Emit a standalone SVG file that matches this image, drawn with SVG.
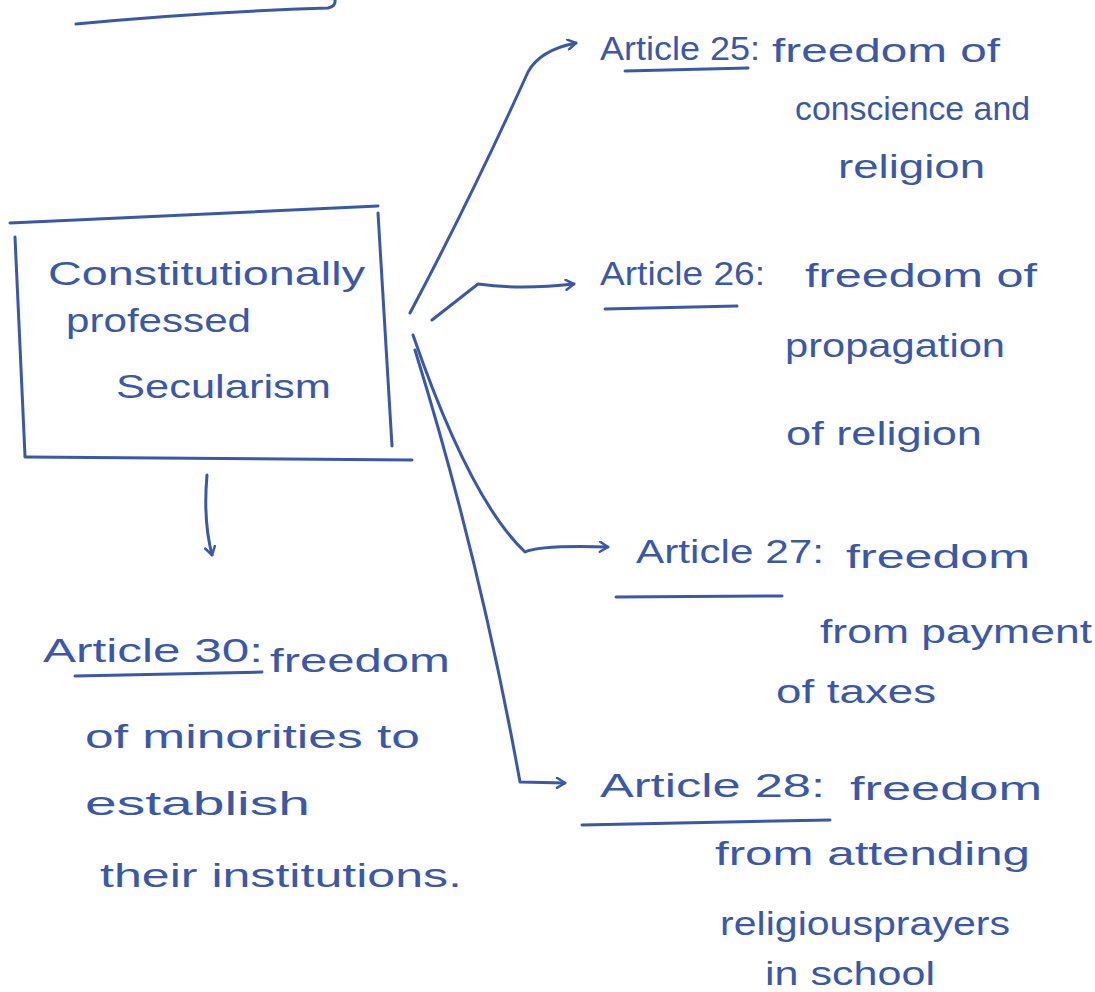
<svg xmlns="http://www.w3.org/2000/svg" width="1095" height="992" viewBox="0 0 1095 992">
<style>
.ink{fill:none;stroke:#3b58a8;stroke-width:3;stroke-linecap:round;stroke-linejoin:round}
.t{font-family:"Liberation Sans",Arial,sans-serif;font-size:34px;fill:#3b58a8}
</style>
<defs>
<marker id="ah" viewBox="0 0 12 12" refX="10" refY="6" markerWidth="12" markerHeight="12" markerUnits="userSpaceOnUse" orient="auto">
<path d="M2,1 L10,6 L2,11" fill="none" stroke="#3b58a8" stroke-width="2.5" stroke-linecap="round" stroke-linejoin="round"/>
</marker>
</defs>
<rect width="1095" height="992" fill="#ffffff"/>
<path class="ink" d="M76,24 Q200,12 328,8 Q336,6 335,0"/>
<g id="secularism">
<path class="ink" d="M10,223 L378,206"/>
<path class="ink" d="M15,237 L25,456"/>
<path class="ink" d="M25,457 L412,460"/>
<path class="ink" d="M378,213 L392,446"/>
<text class="t" x="48" y="285" textLength="317" lengthAdjust="spacingAndGlyphs">Constitutionally</text>
<text class="t" x="66" y="332" textLength="185" lengthAdjust="spacingAndGlyphs">professed</text>
<text class="t" x="116" y="398" textLength="215" lengthAdjust="spacingAndGlyphs">Secularism</text>
</g>
<g id="art25">
<text class="t" x="600" y="60" textLength="160" lengthAdjust="spacingAndGlyphs">Article 25:</text>
<path class="ink" d="M625,71 L748,68"/>
<text class="t" x="772" y="62" textLength="228" lengthAdjust="spacingAndGlyphs">freedom of</text>
<text class="t" x="795" y="120" textLength="235" lengthAdjust="spacingAndGlyphs">conscience and</text>
<text class="t" x="838" y="178" textLength="147" lengthAdjust="spacingAndGlyphs">religion</text>
</g>
<g id="art26">
<text class="t" x="600" y="285" textLength="165" lengthAdjust="spacingAndGlyphs">Article 26:</text>
<path class="ink" d="M605,309 L737,306"/>
<text class="t" x="805" y="287" textLength="232" lengthAdjust="spacingAndGlyphs">freedom of</text>
<text class="t" x="785" y="357" textLength="220" lengthAdjust="spacingAndGlyphs">propagation</text>
<text class="t" x="786" y="445" textLength="196" lengthAdjust="spacingAndGlyphs">of religion</text>
</g>
<g id="art27">
<text class="t" x="636" y="563" textLength="188" lengthAdjust="spacingAndGlyphs">Article 27:</text>
<path class="ink" d="M616,597 L782,596"/>
<text class="t" x="846" y="568" textLength="184" lengthAdjust="spacingAndGlyphs">freedom</text>
<text class="t" x="820" y="643" textLength="272" lengthAdjust="spacingAndGlyphs">from payment</text>
<text class="t" x="776" y="703" textLength="160" lengthAdjust="spacingAndGlyphs">of taxes</text>
</g>
<g id="art28">
<text class="t" x="600" y="797" textLength="225" lengthAdjust="spacingAndGlyphs">Article 28:</text>
<path class="ink" d="M582,825 L830,820"/>
<text class="t" x="850" y="800" textLength="192" lengthAdjust="spacingAndGlyphs">freedom</text>
<text class="t" x="715" y="865" textLength="315" lengthAdjust="spacingAndGlyphs">from attending</text>
<text class="t" x="720" y="935" textLength="290" lengthAdjust="spacingAndGlyphs">religiousprayers</text>
<text class="t" x="765" y="985" textLength="170" lengthAdjust="spacingAndGlyphs">in school</text>
</g>
<g id="art30">
<text class="t" x="43" y="662" textLength="220" lengthAdjust="spacingAndGlyphs">Article 30:</text>
<path class="ink" d="M75,676 L262,672"/>
<text class="t" x="270" y="672" textLength="180" lengthAdjust="spacingAndGlyphs">freedom</text>
<text class="t" x="85" y="748" textLength="335" lengthAdjust="spacingAndGlyphs">of minorities to</text>
<text class="t" x="85" y="815" textLength="225" lengthAdjust="spacingAndGlyphs">establish</text>
<text class="t" x="100" y="887" textLength="362" lengthAdjust="spacingAndGlyphs">their institutions.</text>
</g>
<g id="connectors">
<path class="ink" marker-end="url(#ah)" d="M410,313 Q470,200 528,72 Q540,50 576,43"/>
<path class="ink" marker-end="url(#ah)" d="M432,320 L478,284 Q520,290 574,284"/>
<path class="ink" marker-end="url(#ah)" d="M413,335 Q470,500 525,552 Q540,545 608,547"/>
<path class="ink" marker-end="url(#ah)" d="M415,350 Q480,560 520,782 L565,783"/>
<path class="ink" marker-end="url(#ah)" d="M207,475 Q203,520 212,555"/>
</g>
</svg>
